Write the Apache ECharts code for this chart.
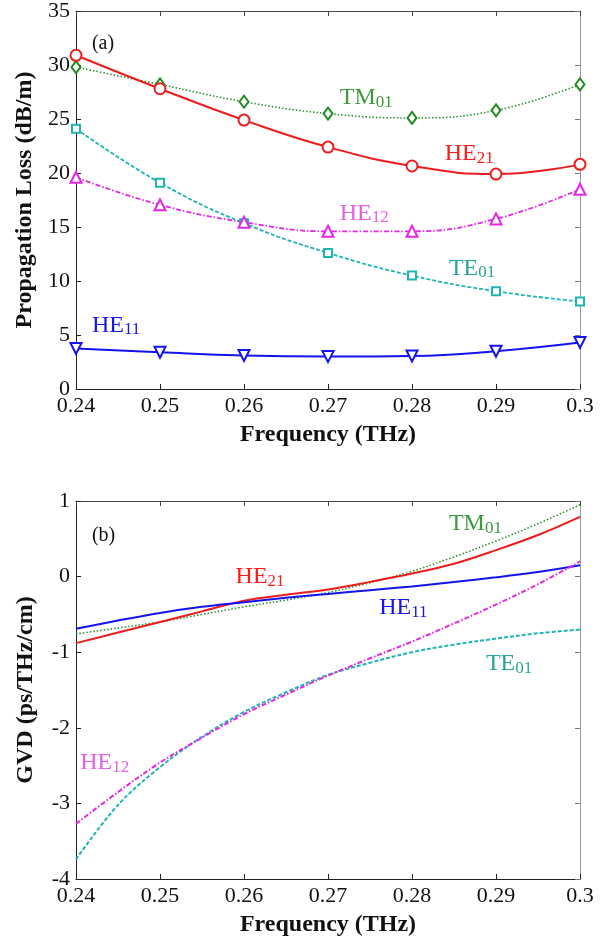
<!DOCTYPE html>
<html>
<head>
<meta charset="utf-8">
<script src="https://cdn.jsdelivr.net/npm/echarts@6/dist/echarts.min.js"></script>
<style>
html,body{margin:0;padding:0;background:#fff;}
#c{width:612px;height:946px;}
</style>
</head>
<body>
<div id="c"></div>
<script>
// ---------- data ----------
const freqs = [0.24, 0.25, 0.26, 0.27, 0.28, 0.29, 0.30];
const lossHE21 = [30.9, 27.8, 24.9, 22.4, 20.65, 19.9, 20.8];
const lossTM01 = [29.8, 28.2, 26.6, 25.5, 25.1, 25.8, 28.2];
const lossTE01 = [24.1, 19.1, 15.35, 12.6, 10.5, 9.05, 8.1];
const lossHE12 = [19.6, 17.05, 15.45, 14.6, 14.6, 15.75, 18.5];
const lossHE11 = [3.75, 3.4, 3.1, 3.0, 3.05, 3.5, 4.3];

const gvdFreqs = [0.24, 0.245, 0.25, 0.255, 0.26, 0.265, 0.27, 0.275, 0.28, 0.285, 0.29, 0.295, 0.30];
const gvdHE21 = [-0.88, -0.74, -0.60, -0.46, -0.32, -0.24, -0.17, -0.07, 0.04, 0.17, 0.35, 0.55, 0.79];
const gvdHE11 = [-0.69, -0.58, -0.48, -0.40, -0.34, -0.28, -0.23, -0.18, -0.13, -0.07, -0.01, 0.06, 0.15];
const gvdTM01 = [-0.76, -0.68, -0.60, -0.50, -0.40, -0.31, -0.21, -0.08, 0.07, 0.26, 0.47, 0.70, 0.95];
const gvdTE01 = [-3.74, -3.02, -2.52, -2.12, -1.79, -1.53, -1.30, -1.14, -1.00, -0.90, -0.82, -0.75, -0.70];
const gvdHE12 = [-3.27, -2.85, -2.46, -2.13, -1.82, -1.56, -1.31, -1.08, -0.86, -0.62, -0.37, -0.10, 0.20];

const lossTicks = {min: 0, max: 35, interval: 5};
const gvdTicks = {min: -4, max: 1, interval: 1};
const freqTicks = {min: 0.24, max: 0.30, interval: 0.01};

// label anchors in data coordinates: [text, subscript, x, y, colorKey]
const labelsA = [
  ['(a)', '', 0.2419, 31.95, 'k'],
  ['TM', '01', 0.2714, 26.97, 'tm'],
  ['HE', '21', 0.2839, 21.8, 'he21'],
  ['HE', '12', 0.2714, 16.25, 'he12'],
  ['TE', '01', 0.2844, 11.17, 'te'],
  ['HE', '11', 0.2419, 5.9, 'he11']
];
const labelsB = [
  ['(b)', '', 0.2419, 0.54, 'k'],
  ['TM', '01', 0.2844, 0.70, 'tm'],
  ['HE', '21', 0.2590, 0.00, 'he21'],
  ['HE', '11', 0.2761, -0.41, 'he11'],
  ['TE', '01', 0.2888, -1.15, 'te'],
  ['HE', '12', 0.2405, -2.46, 'he12']
];

// ---------- styles ----------
const FONT = '"Liberation Serif", "Times New Roman", serif';
const C = {red: '#ee1c1c', green: '#228b22', cyan: '#1fb5b0', magenta: '#e526e5', blue: '#1414ee'};
const LC = {k: '#111', tm: '#3d9a3d', he21: '#ff1a1a', he12: '#e660e6', te: '#2aa39b', he11: '#1515f0'};

function zip(xs, ys) { return xs.map((x, i) => [x, ys[i]]); }
function fmtNum(v) { return String(parseFloat(Number(v).toFixed(3))); }

const tickFont = {fontFamily: FONT, fontSize: 22, color: '#111'};
const titleFont = {fontFamily: FONT, fontSize: 24, fontWeight: 'bold', color: '#111'};

function xAxes(gi) {
  return [
    {type: 'value', gridIndex: gi, position: 'bottom', min: freqTicks.min, max: freqTicks.max, interval: freqTicks.interval,
     axisLine: {show: true, onZero: false, lineStyle: {color: '#222', width: 1}},
     axisTick: {show: true, inside: true, length: 5, lineStyle: {color: '#222'}},
     axisLabel: Object.assign({margin: 6, formatter: fmtNum}, tickFont),
     splitLine: {show: false},
     name: 'Frequency (THz)', nameLocation: 'middle', nameGap: 34, nameTextStyle: titleFont},
    {type: 'value', gridIndex: gi, position: 'top', min: freqTicks.min, max: freqTicks.max, interval: freqTicks.interval,
     axisLine: {show: true, onZero: false, lineStyle: {color: '#444', width: 1}},
     axisTick: {show: true, inside: true, length: 5, lineStyle: {color: '#444'}},
     axisLabel: {show: false}, splitLine: {show: false}}
  ];
}
function yAxes(gi, t, name) {
  return [
    {type: 'value', gridIndex: gi, position: 'left', min: t.min, max: t.max, interval: t.interval,
     axisLine: {show: true, onZero: false, lineStyle: {color: '#222', width: 1}},
     axisTick: {show: true, inside: true, length: 5, lineStyle: {color: '#222'}},
     axisLabel: Object.assign({margin: 6, formatter: fmtNum}, tickFont),
     splitLine: {show: false},
     name: name, nameLocation: 'middle', nameGap: 38, nameTextStyle: titleFont},
    {type: 'value', gridIndex: gi, position: 'right', min: t.min, max: t.max, interval: t.interval,
     axisLine: {show: true, onZero: false, lineStyle: {color: '#999', width: 1}},
     axisTick: {show: true, inside: true, length: 5, lineStyle: {color: '#777'}},
     axisLabel: {show: false}, splitLine: {show: false}}
  ];
}

function lossSeries(name, data, color, lineType, width, symbol, size, rotate) {
  return {
    name: name, type: 'line', xAxisIndex: 0, yAxisIndex: 0,
    data: zip(freqs, data), smooth: 0.45,
    symbol: symbol, symbolSize: size, symbolRotate: rotate || 0, showSymbol: true,
    lineStyle: {color: color, width: width, type: lineType},
    itemStyle: {color: color, borderColor: color, borderWidth: 1.8},
    silent: true, animation: false, z: 3
  };
}
function gvdSeries(name, data, color, lineType, width) {
  return {
    name: name, type: 'line', xAxisIndex: 2, yAxisIndex: 2,
    data: zip(gvdFreqs, data), smooth: 0.35, showSymbol: false, symbol: 'none',
    lineStyle: {color: color, width: width, type: lineType},
    silent: true, animation: false
  };
}

const chart = echarts.init(document.getElementById('c'), null, {renderer: 'canvas'});
const option = {
  backgroundColor: '#fff',
  animation: false,
  grid: [
    {left: 76, top: 10, width: 504, height: 379, containLabel: false},
    {left: 76, top: 501, width: 504, height: 378, containLabel: false}
  ],
  xAxis: xAxes(0).concat(xAxes(1)),
  yAxis: yAxes(0, lossTicks, 'Propagation Loss (dB/m)').concat(yAxes(1, gvdTicks, 'GVD (ps/THz/cm)')),
  series: [
    lossSeries('TM01', lossTM01, C.green, [1.5, 2], 1.5, 'emptyDiamond', [9, 12]),
    lossSeries('HE21', lossHE21, C.red, 'solid', 2, 'emptyCircle', 11),
    lossSeries('TE01', lossTE01, C.cyan, [4, 2], 1.8, 'emptyRect', 8),
    lossSeries('HE12', lossHE12, C.magenta, [5, 2, 1.5, 2], 1.8, 'emptyTriangle', 11),
    lossSeries('HE11', lossHE11, C.blue, 'solid', 2, 'emptyTriangle', 11, 180),
    gvdSeries('TM01', gvdTM01, C.green, [1.5, 2], 1.5),
    gvdSeries('HE21', gvdHE21, C.red, 'solid', 2),
    gvdSeries('HE11', gvdHE11, C.blue, 'solid', 2),
    gvdSeries('TE01', gvdTE01, C.cyan, [4, 2], 2),
    gvdSeries('HE12', gvdHE12, C.magenta, [5, 2, 1.5, 2], 2)
  ]
};
chart.setOption(option);

// ---------- labels placed from data coordinates ----------
const mctx = document.createElement('canvas').getContext('2d');
function textW(str, size) { mctx.font = size + 'px ' + FONT; return mctx.measureText(str).width; }
function buildLabels(list, xIdx, yIdx) {
  const out = [];
  list.forEach(function (l) {
    const p = chart.convertToPixel({xAxisIndex: xIdx, yAxisIndex: yIdx}, [l[2], l[3]]);
    const isTag = l[1] === '';
    const main = isTag ? 20 : 24;
    const sub = 17;
    out.push({type: 'text', x: p[0], y: p[1], silent: true, z: 10,
      style: {text: l[0], fontFamily: FONT, fontSize: main, fill: LC[l[4]], textAlign: 'left', textVerticalAlign: 'middle'}});
    if (!isTag) {
      const w = textW(l[0], main);
      out.push({type: 'text', x: p[0] + w, y: p[1] + 13, silent: true, z: 10,
        style: {text: l[1], fontFamily: FONT, fontSize: sub, fill: LC[l[4]], textAlign: 'left', textVerticalAlign: 'bottom'}});
    }
  });
  return out;
}
chart.setOption({graphic: buildLabels(labelsA, 0, 0).concat(buildLabels(labelsB, 2, 2))});
</script>
</body>
</html>
